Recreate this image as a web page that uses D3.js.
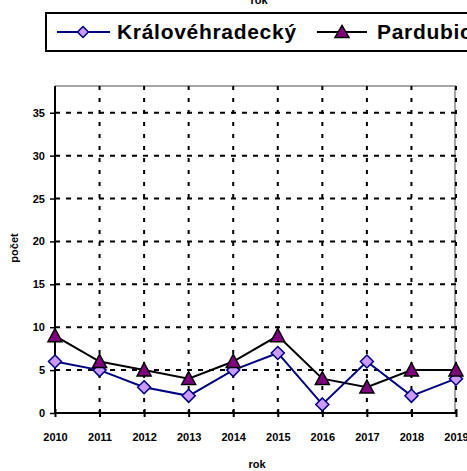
<!DOCTYPE html>
<html>
<head>
<meta charset="utf-8">
<script src="https://cdn.jsdelivr.net/npm/d3@7"></script>
<style>
  html, body { margin: 0; padding: 0; background: #fff; }
  svg { display: block; font-family: Arial, "Liberation Sans", sans-serif; }
</style>
</head>
<body>
<svg id="chart" width="467" height="471"></svg>
<script>
const years = ["2010","2011","2012","2013","2014","2015","2016","2017","2018","2019"];
const kralovehradecky = [6, 5, 3, 2, 5, 7, 1, 6, 2, 4];
const pardubicky = [9, 6, 5, 4, 6, 9, 4, 3, 5, 5];
const seriesNames = ["Královéhradecký", "Pardubický"];
const yTicks = [0, 5, 10, 15, 20, 25, 30, 35];
const yMax = 38;

const svg = d3.select("#chart");
const pLeft = 55, pRight = 456, pTop = 87, pBottom = 413;

const x = d3.scalePoint().domain(years).range([pLeft, pRight]).padding(0);
const y = d3.scaleLinear().domain([0, yMax]).range([pBottom, pTop]);

// plot border (top & right grey)
svg.append("path")
  .attr("d", `M${pLeft},${pTop - 1}H${pRight - 1}V${pBottom}`)
  .attr("fill", "none").attr("stroke", "#888").attr("stroke-width", 1.5);

// horizontal gridlines
svg.append("g").selectAll("line").data(yTicks.filter(d => d > 0)).join("line")
  .attr("x1", pLeft).attr("x2", pRight)
  .attr("y1", d => y(d)).attr("y2", d => y(d))
  .attr("stroke", "#000").attr("stroke-width", 2).attr("stroke-dasharray", "5,6");

// vertical gridlines
svg.append("g").selectAll("line").data(years.slice(1)).join("line")
  .attr("x1", d => x(d)).attr("x2", d => x(d))
  .attr("y1", pTop - 1).attr("y2", pBottom)
  .attr("stroke", "#000").attr("stroke-width", 2).attr("stroke-dasharray", "4,8");

// Y axis
const yAxis = svg.append("g").attr("transform", `translate(${pLeft},0)`)
  .call(d3.axisLeft(y).tickValues(yTicks).tickSize(5).tickPadding(5));
yAxis.select(".domain").attr("stroke", "#000").attr("stroke-width", 2)
  .attr("d", `M0,${pTop - 1}V${pBottom + 1}`);
yAxis.selectAll(".tick line").attr("stroke", "#000").attr("stroke-width", 1.5);
yAxis.selectAll(".tick text").attr("font-size", 11).attr("font-weight", "bold")
  .attr("font-family", "Arial, 'Liberation Sans', sans-serif").attr("fill", "#000");

// X axis
const xAxis = svg.append("g").attr("transform", `translate(0,${pBottom})`)
  .call(d3.axisBottom(x).tickSize(4).tickPadding(16));
xAxis.select(".domain").attr("stroke", "#000").attr("stroke-width", 2)
  .attr("d", `M${pLeft},0H${pRight}`);
xAxis.selectAll(".tick line").attr("stroke", "#000").attr("stroke-width", 2).attr("y1", -4);
xAxis.selectAll(".tick text").attr("font-size", 11).attr("font-weight", "bold")
  .attr("font-family", "Arial, 'Liberation Sans', sans-serif").attr("fill", "#000");

// lines
const line = d3.line().x((d, i) => x(years[i])).y(d => y(d));
svg.append("path").datum(pardubicky).attr("d", line)
  .attr("fill", "none").attr("stroke", "#000").attr("stroke-width", 2);
svg.append("path").datum(kralovehradecky).attr("d", line)
  .attr("fill", "none").attr("stroke", "#000080").attr("stroke-width", 2);

const diamond = (cx, cy, r) => `M${cx},${cy - r}L${cx + r},${cy}L${cx},${cy + r}L${cx - r},${cy}Z`;
const triangle = (cx, cy, w, h) => `M${cx},${cy - h * 0.55}L${cx + w / 2},${cy + h * 0.45}L${cx - w / 2},${cy + h * 0.45}Z`;

svg.append("g").selectAll("path").data(kralovehradecky).join("path")
  .attr("d", (d, i) => diamond(x(years[i]), y(d), 6.5))
  .attr("fill", "#CC99FF").attr("stroke", "#000080").attr("stroke-width", 1.5);

svg.append("g").selectAll("path").data(pardubicky).join("path")
  .attr("d", (d, i) => triangle(x(years[i]), y(d), 14, 13))
  .attr("fill", "#800080").attr("stroke", "#000").attr("stroke-width", 1.5);

// axis titles
svg.append("text").attr("x", 259).attr("y", 4).attr("text-anchor", "middle")
  .attr("font-size", 11).attr("font-weight", "bold").text("rok");
svg.append("text").attr("x", 257).attr("y", 468).attr("text-anchor", "middle")
  .attr("font-size", 11).attr("font-weight", "bold").text("rok");
svg.append("text").attr("transform", "translate(18,248) rotate(-90)")
  .attr("text-anchor", "middle").attr("font-size", 11).attr("font-weight", "bold").text("počet");

// legend
const lg = svg.append("g");
lg.append("rect").attr("x", 46).attr("y", 13).attr("width", 440).attr("height", 38)
  .attr("fill", "#fff").attr("stroke", "#000").attr("stroke-width", 2);
lg.append("line").attr("x1", 57).attr("x2", 110).attr("y1", 32).attr("y2", 32)
  .attr("stroke", "#000080").attr("stroke-width", 2);
lg.append("path").attr("d", diamond(83, 32, 5.5))
  .attr("fill", "#CC99FF").attr("stroke", "#000080").attr("stroke-width", 1.5);
lg.append("text").attr("x", 117).attr("y", 39).attr("font-size", 21).attr("font-weight", "bold")
  .attr("letter-spacing", 0.7).text(seriesNames[0]);
lg.append("line").attr("x1", 317).attr("x2", 367).attr("y1", 32).attr("y2", 32)
  .attr("stroke", "#000").attr("stroke-width", 2);
lg.append("path").attr("d", triangle(342, 32, 14, 12))
  .attr("fill", "#800080").attr("stroke", "#000").attr("stroke-width", 1.5);
lg.append("text").attr("x", 377).attr("y", 39).attr("font-size", 21).attr("font-weight", "bold")
  .attr("letter-spacing", 0.7).text(seriesNames[1]);
</script>
</body>
</html>
